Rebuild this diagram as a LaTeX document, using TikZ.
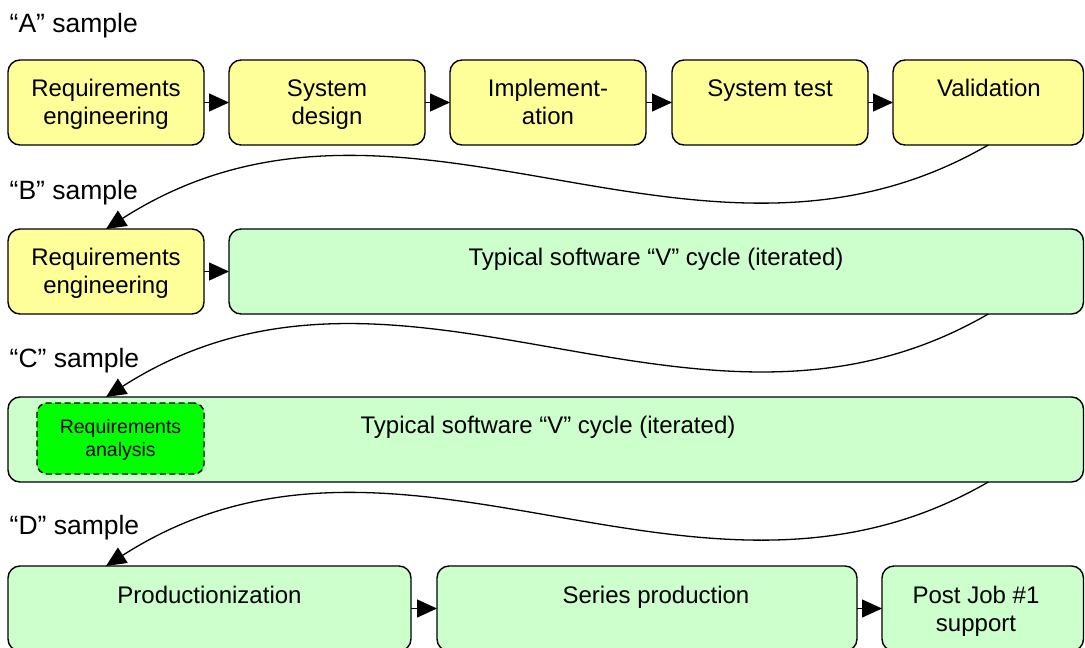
\documentclass[tikz,border=0pt]{standalone}
\usepackage{fontspec}
\setmainfont{Liberation Sans}
\usetikzlibrary{arrows.meta}
\definecolor{stageyellow}{HTML}{FFFF99}
\definecolor{stagegreen}{HTML}{CCFFCC}
\definecolor{focusgreen}{HTML}{00FF00}
\newcommand{\twolines}[2]{\begin{tabular}[t]{@{}c@{}}#1\\#2\end{tabular}}
\tikzset{
  stagebox/.style={draw=black, line width=1.4pt, rounded corners=12pt,
    minimum height=85pt, inner sep=0pt, outer sep=0pt},
  yellowbox/.style={stagebox, fill=stageyellow},
  greenbox/.style={stagebox, fill=stagegreen},
  focusbox/.style={draw=black, line width=1.4pt, rounded corners=10pt,
    dash pattern=on 6pt off 3.5pt, fill=focusgreen, inner sep=0pt},
  boxtext/.style={anchor=base, inner sep=0pt,
    font=\fontsize{24}{28}\selectfont},
  smalltext/.style={anchor=base, inner sep=0pt,
    font=\fontsize{19.5}{23}\selectfont},
  rowlabel/.style={anchor=base west, inner sep=0pt,
    font=\fontsize{26.5}{30}\selectfont},
  flow/.style={draw=black, line width=1.3pt,
    -{Triangle[length=20pt,width=18pt]}},
}
\begin{document}
\begin{tikzpicture}[x=1pt,y=-1pt]
\clip (0,0) rectangle (1085,648);

% row labels
\node[rowlabel] (la) at (9.5,32)  {“A” sample};
\node[rowlabel] (lb) at (9.5,199) {“B” sample};
\node[rowlabel] (lc) at (9.5,367) {“C” sample};
\node[rowlabel] (ld) at (9.5,534) {“D” sample};

% "A" sample: sequential development steps
\node[yellowbox, minimum width=196pt]   (a1) at (106,102.5)    {};
\node[yellowbox, minimum width=196pt]   (a2) at (327,102.5)    {};
\node[yellowbox, minimum width=196pt]   (a3) at (548,102.5)    {};
\node[yellowbox, minimum width=196pt]   (a4) at (770,102.5)    {};
\node[yellowbox, minimum width=190.5pt] (a5) at (988.25,102.5) {};
\node[boxtext] (ta1) at (106,96)   {\twolines{Requirements}{engineering}};
\node[boxtext] (ta2) at (327,96)   {\twolines{System}{design}};
\node[boxtext] (ta3) at (548,96)   {\twolines{Implement-}{ation}};
\node[boxtext] (ta4) at (770,96)   {System test};
\node[boxtext] (ta5) at (989,96)   {Validation};
\draw[flow] (a1) -- (a2);
\draw[flow] (a2) -- (a3);
\draw[flow] (a3) -- (a4);
\draw[flow] (a4) -- (a5);

% "B" sample
\node[yellowbox, minimum width=196pt]   (b1) at (106,271.5)    {};
\node[greenbox,  minimum width=854.5pt] (b2) at (656.25,271.5) {};
\node[boxtext] (tb1) at (106,265) {\twolines{Requirements}{engineering}};
\node[boxtext] (tb2) at (656,265) {Typical software “V” cycle (iterated)};
\draw[flow] (b1) -- (b2);

% "C" sample
\node[greenbox, minimum width=1075.5pt] (c) at (545.75,439.5) {};
\node[focusbox, minimum width=167pt, minimum height=71pt] (ci) at (120.5,438.5) {};
\node[smalltext] (tci) at (120.5,433) {\twolines{Requirements}{analysis}};
\node[boxtext] (tc) at (548,433) {Typical software “V” cycle (iterated)};

% "D" sample
\node[greenbox, minimum width=403pt]   (d1) at (209.5,608.5)  {};
\node[greenbox, minimum width=420pt]   (d2) at (647,608.5)    {};
\node[greenbox, minimum width=201.5pt] (d3) at (982.75,608.5) {};
\node[boxtext] (td1) at (209.5,603) {Productionization};
\node[boxtext] (td2) at (656,603)   {Series production};
\node[boxtext] (td3) at (976,603)   {\twolines{Post Job \#1}{support}};
\draw[flow] (d1) -- (d2);
\draw[flow] (d2) -- (d3);

% transitions between samples
\coordinate (bstart) at (b2.south -| a5.south);
\coordinate (cend)   at (c.north -| b1.north);
\coordinate (cstart) at (c.south -| a5.south);
\coordinate (dend)   at (d1.north -| b1.north);
\draw[flow] (a5.south) .. controls +(-293,170) and +(295,-189) .. (b1.north);
\draw[flow] (bstart)   .. controls +(-293,170) and +(295,-189) .. (cend);
\draw[flow] (cstart)   .. controls +(-293,170) and +(295,-189) .. (dend);
\end{tikzpicture}
\end{document}
